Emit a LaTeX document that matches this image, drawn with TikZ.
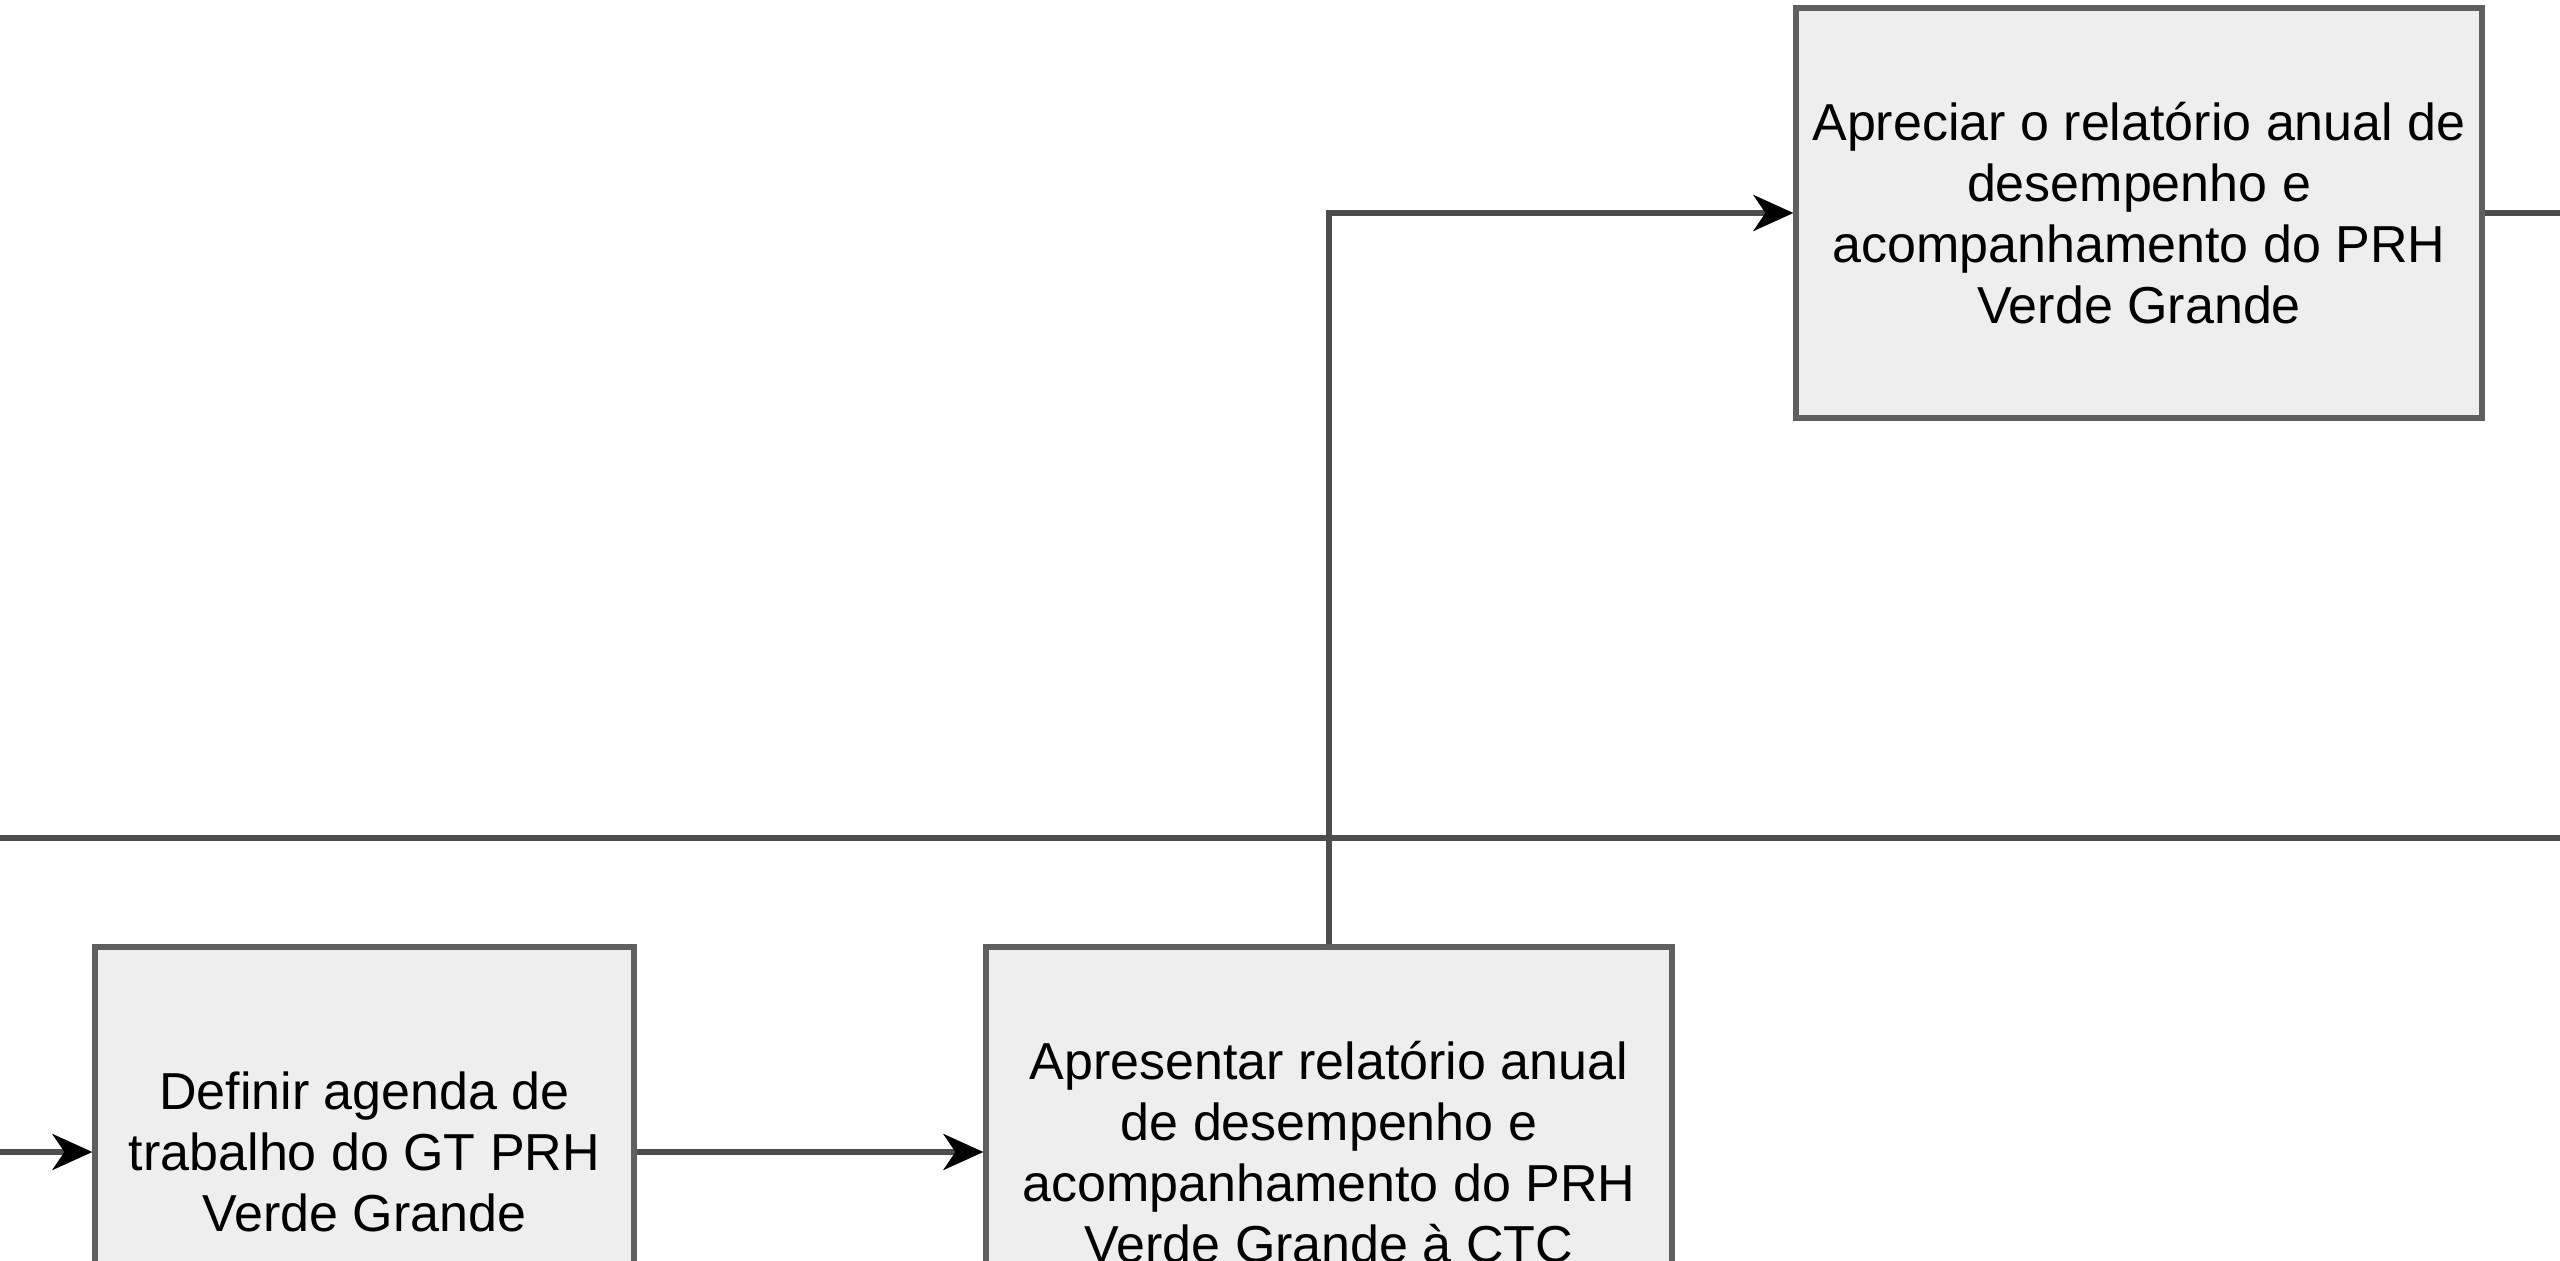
\documentclass[tikz,border=0pt]{standalone}
\usepackage{fontspec}
\setmainfont{Liberation Sans}
\usetikzlibrary{positioning}
\usetikzlibrary{arrows.meta}
\definecolor{boxfill}{HTML}{EEEEEE}
\definecolor{boxline}{HTML}{5F5F5F}
\definecolor{wire}{HTML}{4D4D4D}

\begin{document}
\begin{tikzpicture}[x=0.25pt, y=-0.25pt,
    act/.style={draw=boxline, fill=boxfill, line width=1.3pt, rectangle, minimum width=171.5pt, minimum height=102.5pt, inner sep=0pt, align=center, font=\fontsize{13}{15.2}\selectfont},
    wire/.style={draw=wire, line width=1.3pt},
    flow/.style={wire, -{Stealth[length=10pt, width=9pt, inset=3pt, color=black]}}
    ]
\useasboundingbox (0, 0) rectangle (2560, 1261);
\node[act] at (2139, 213) (appr) {Apreciar o relatório anual de\\desempenho e\\acompanhamento do PRH\\Verde Grande};
\node[act, minimum width=134.75pt] at (364.5, 1152) (agenda) {Definir agenda de\\trabalho do GT PRH\\Verde Grande};
\node[act] at (1329, 1152) (apres) {Apresentar relatório anual\\de desempenho e\\acompanhamento do PRH\\Verde Grande à CTC};
\coordinate (laneL) at (0, 838);
\coordinate (laneR) at (2560, 838);
\coordinate (inL) at (0, 1152);
\coordinate (outR) at (2560, 213);
\draw[wire] (laneL) -- (laneR);
\draw[flow] (inL) -- (agenda);
\draw[flow] (agenda) -- (apres);
\draw[flow] (apres.north) |- (appr.west);
\draw[wire] (appr.east) -- (outR);
\end{tikzpicture}
\end{document}
